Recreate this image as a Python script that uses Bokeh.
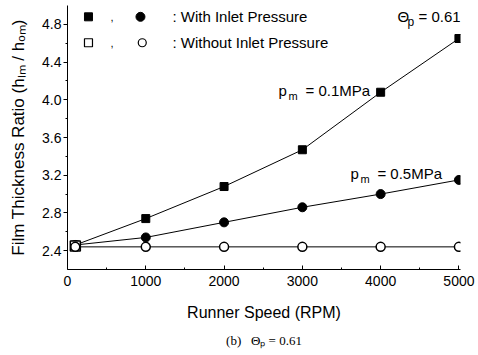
from bokeh.plotting import figure
from bokeh.models import FixedTicker, Label, Title, Range1d
from bokeh.embed import file_html
from bokeh.resources import INLINE

# ---- data ----
speed = [100, 1000, 2000, 3000, 4000, 5000]
ratio_with_p01 = [2.46, 2.74, 3.08, 3.47, 4.08, 4.65]
ratio_with_p05 = [2.46, 2.54, 2.70, 2.86, 3.00, 3.15]
speed_without_p01 = [100]
ratio_without_p01 = [2.45]
ratio_without_p05 = [2.44, 2.44, 2.44, 2.44, 2.44, 2.44]

x_ticks = [0, 1000, 2000, 3000, 4000, 5000]
x_minor = [500, 1500, 2500, 3500, 4500]
y_ticks = [2.4, 2.8, 3.2, 3.6, 4.0, 4.4, 4.8]
y_tick_labels = ["2.4", "2.8", "3.2", "3.6", "4.0", "4.4", "4.8"]
y_minor = [2.6, 3.0, 3.4, 3.8, 4.2, 4.6]

FONT = "Liberation Sans"

p = figure(width=478, height=355, x_range=Range1d(0, 5020), y_range=Range1d(2.2, 5.0),
           output_backend="svg", toolbar_location=None,
           min_border_left=67, min_border_right=18, min_border_top=5, min_border_bottom=86)
p.outline_line_color = None
p.xgrid.visible = False
p.ygrid.visible = False
p.background_fill_color = "white"
p.border_fill_color = "white"

p.xaxis.ticker = FixedTicker(ticks=x_ticks, minor_ticks=x_minor)
p.yaxis.ticker = FixedTicker(ticks=y_ticks, minor_ticks=y_minor)
p.yaxis.major_label_overrides = {t: s for t, s in zip(y_ticks, y_tick_labels)}

for ax in (p.xaxis, p.yaxis):
    ax.axis_line_color = "black"
    ax.major_tick_line_color = "black"
    ax.minor_tick_line_color = "black"
    ax.major_label_text_font = FONT
    ax.major_label_text_font_size = "14px"
    ax.major_label_text_color = "black"
    ax.axis_label_text_font = FONT
    ax.axis_label_text_font_style = "normal"
    ax.axis_label_text_color = "black"

p.xaxis.axis_label_text_font_size = "16px"
p.yaxis.axis_label_text_font_size = "17px"

p.xaxis.major_tick_in = 4
p.xaxis.major_tick_out = 0
p.xaxis.minor_tick_in = 2
p.xaxis.minor_tick_out = 0
p.xaxis.major_label_standoff = 6
p.xaxis.axis_label = "Runner Speed (RPM)"
p.xaxis.axis_label_standoff = 15

p.yaxis.major_tick_in = 0
p.yaxis.major_tick_out = 4
p.yaxis.minor_tick_in = 0
p.yaxis.minor_tick_out = 2
p.yaxis.major_label_standoff = 2
p.yaxis.axis_label = "Film Thickness Ratio (hₗₘ / hₒₘ)"
p.yaxis.axis_label_standoff = 11

# lines
p.line(speed, ratio_with_p01, line_color="black", line_width=1)
p.line(speed, ratio_with_p05, line_color="black", line_width=1)
p.line(speed, ratio_without_p05, line_color="black", line_width=1)

# markers
p.scatter(speed, ratio_with_p05, marker="circle", size=9, fill_color="black", line_color="black")
p.scatter(speed, ratio_with_p01, marker="square", size=8, fill_color="black", line_color="black")
p.scatter(speed_without_p01, ratio_without_p01, marker="square", size=10, fill_color="white",
          line_color="black", line_width=1.5)
p.scatter(speed, ratio_without_p05, marker="circle", size=9, fill_color="white",
          line_color="black", line_width=1.5)

# legend block (positions in data space)
leg_y = [4.88, 4.605]
p.scatter([268], [leg_y[0]], marker="square", size=8, fill_color="black", line_color="black")
p.scatter([932], [leg_y[0]], marker="circle", size=9, fill_color="black", line_color="black")
p.scatter([268], [leg_y[1]], marker="square", size=8, fill_color="white", line_color="black", line_width=1.2)
p.scatter([955], [leg_y[1]], marker="circle", size=8, fill_color="white", line_color="black", line_width=1.2)

def lab(x, y, text, size="15px", xo=0, yo=0):
    p.add_layout(Label(x=x, y=y, text=text, x_offset=xo, y_offset=yo,
                       text_font=FONT, text_font_size=size, text_color="black",
                       text_baseline="middle", text_align="left"))

lab(549, leg_y[0], ",", size="11px")
lab(549, leg_y[1], ",", size="11px")
lab(1340, leg_y[0], ": With Inlet Pressure")
lab(1340, leg_y[1], ": Without Inlet Pressure")

# theta label
lab(4215, 4.88, "Θ")
lab(4215, 4.88, "p", size="12px", xo=10, yo=-5)
lab(4215, 4.88, "= 0.61", xo=21)

# pm labels
lab(2695, 4.095, "p")
lab(2695, 4.095, "m", size="11px", xo=10, yo=-5)
lab(2695, 4.095, "= 0.1MPa", xo=27)
lab(3614, 3.215, "p")
lab(3614, 3.215, "m", size="11px", xo=10, yo=-5)
lab(3614, 3.215, "= 0.5MPa", xo=27)

cap = Title(text="(b)\u00a0\u00a0\u00a0Θₚ\u00a0=\u00a00.61", align="center", text_font="Liberation Serif",
            text_font_size="13px", text_font_style="normal", text_color="black", standoff=14)
p.add_layout(cap, "below")

open("out.html", "w").write(file_html(p, INLINE))
